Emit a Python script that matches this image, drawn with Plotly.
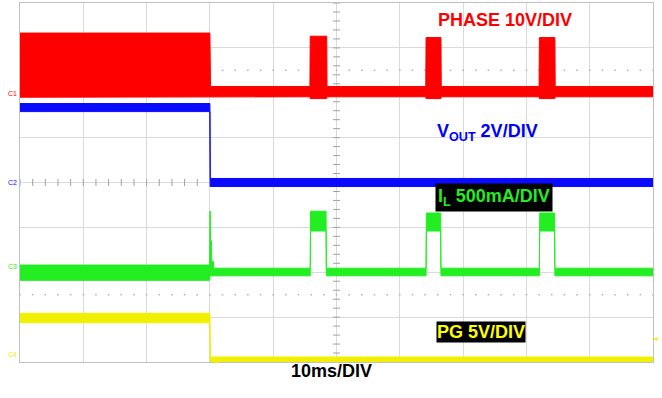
import numpy as np
import plotly.graph_objs as go

# time base: 10 ms/div, 10 divisions ; vertical: 8 divisions
# each channel: segments of an envelope (start ms, end ms, upper, lower) in channel units

# PHASE (V), 10 V/div
phase_start = [0.0, 30.1, 45.85, 48.5, 64.15, 66.55, 82.05, 84.55]
phase_end = [30.0, 45.8, 48.45, 64.1, 66.5, 82.0, 84.5, 100.0]
phase_hi = [12.3, 0.4, 11.6, 0.4, 11.3, 0.4, 11.3, 0.4]
phase_lo = [-2.0, -1.9, -2.3, -1.9, -2.3, -1.9, -2.3, -1.9]

# VOUT (V), 2 V/div
vout_start = [0.0, 30.05]
vout_end = [30.0, 100.0]
vout_hi = [3.52, 0.18]
vout_lo = [3.16, -0.18]

# IL (A), 500 mA/div
il_start = [0.0, 30.0, 30.1, 30.3, 30.6, 45.9, 48.4, 64.2, 66.5, 82.1, 84.5]
il_end = [29.95, 30.05, 30.25, 30.55, 45.85, 48.35, 64.15, 66.45, 82.05, 84.45, 100.0]
il_hi = [0.08, 0.68, 0.35, 0.12, 0.045, 0.68, 0.045, 0.66, 0.045, 0.66, 0.045]
il_lo = [-0.09, -0.04, -0.04, -0.04, -0.04, 0.46, -0.04, 0.46, -0.04, 0.46, -0.04]

# PG (V), 5 V/div
pg_start = [0.0, 30.05]
pg_end = [30.0, 100.0]
pg_hi = [5.2, 0.33]
pg_lo = [4.15, -0.3]

channels = [
    # name, label, start, end, hi, lo, offset (div), units/div, color
    ('PHASE', 'C1', phase_start, phase_end, phase_hi, phase_lo, 6.1, 10.0, '#ff0000'),
    ('VOUT', 'C2', vout_start, vout_end, vout_hi, vout_lo, 4.0, 2.0, '#0a0aff'),
    ('IL', 'C3', il_start, il_end, il_hi, il_lo, 2.0, 0.5, '#22ee22'),
    ('PG', 'C4', pg_start, pg_end, pg_hi, pg_lo, 0.045, 5.0, '#f0f000'),
]


def band(t0, t1, hi, lo, off, scale):
    xs, ys = [], []
    for a, b, h in zip(t0, t1, hi):
        xs += [a, b]
        ys += [off + h / scale, off + h / scale]
    for a, b, l in reversed(list(zip(t0, t1, lo))):
        xs += [b, a]
        ys += [off + l / scale, off + l / scale]
    return xs + xs[:1], ys + ys[:1]


data = []

# scope graticule decorations: center cross ticks and half-division dotted rows
tick_x = np.arange(0, 100.01, 2)
tick_y = np.arange(0, 8.01, 0.2)
data.append(go.Scatter(x=tick_x, y=[4] * len(tick_x), mode='markers', hoverinfo='skip',
                       marker=dict(symbol='line-ns-open', size=5, color='#a0a0a0', line=dict(width=1))))
data.append(go.Scatter(x=[50] * len(tick_y), y=tick_y, mode='markers', hoverinfo='skip',
                       marker=dict(symbol='line-ew-open', size=5, color='#a0a0a0', line=dict(width=1))))
for yy in [6.5, 1.5]:
    data.append(go.Scatter(x=tick_x, y=[yy] * len(tick_x), mode='markers', hoverinfo='skip',
                           marker=dict(symbol='square', size=1.5, color='#b0b0b0')))

for name, label, t0, t1, hi, lo, off, scale, color in channels[::-1]:
    xs, ys = band(t0, t1, hi, lo, off, scale)
    data.append(go.Scatter(x=xs, y=ys, mode='lines', fill='toself', fillcolor=color,
                           line=dict(color=color, width=1), name=name, hoverinfo='skip'))

annotations = [
    dict(x=76.6, y=7.62, text='<b>PHASE 10V/DIV</b>', showarrow=False,
         font=dict(color='#ff0000', size=18)),
    dict(x=65.6, y=5.12, xanchor='left', text='<b>V<sub>OUT</sub> 2V/DIV</b>', showarrow=False,
         font=dict(color='#0000ff', size=18)),
    dict(x=65.6, y=3.67, xanchor='left', text='<b>I<sub>L</sub> 500mA/DIV</b>', showarrow=False,
         font=dict(color='#22ee22', size=18), bgcolor='black', borderpad=2),
    dict(x=65.7, y=0.67, xanchor='left', text='<b>PG 5V/DIV</b>', showarrow=False,
         font=dict(color='#ffff00', size=18), bgcolor='black', borderpad=0),
    dict(x=0.492, y=-0.058, xref='paper', yref='paper', text='<b>10ms/DIV</b>', showarrow=False,
         font=dict(color='black', size=18)),
    # trigger position and trigger level markers
    dict(x=0.3, y=-0.014, xref='paper', yref='paper', text='▲', showarrow=False,
         font=dict(color='#f0f000', size=8)),
    dict(x=1.011, y=0.42 / 8, xref='paper', yref='paper', xanchor='right', text='◄', showarrow=False,
         font=dict(color='#f0f000', size=7), borderpad=0),
]
for name, label, t0, t1, hi, lo, off, scale, color in channels:
    annotations.append(dict(x=-0.001, y=off / 8, xref='paper', yref='paper', xanchor='right',
                            text=label, showarrow=False,
                            font=dict(color=color, size=7)))

layout = go.Layout(
    width=662, height=398,
    margin=dict(l=20, r=9, t=3, b=36),
    paper_bgcolor='white', plot_bgcolor='white',
    showlegend=False,
    font=dict(family='Liberation Sans, Arial'),
    xaxis=dict(range=[0, 100], dtick=10, showticklabels=False, showgrid=True, gridcolor='#dadada',
               gridwidth=1, zeroline=False, showline=True, linecolor='#c0c0c0', mirror=True, ticks=''),
    yaxis=dict(range=[0, 8], dtick=1, showticklabels=False, showgrid=True, gridcolor='#dadada',
               gridwidth=1, zeroline=False, showline=True, linecolor='#c0c0c0', mirror=True, ticks=''),
    annotations=annotations,
)
fig = go.Figure(data=data, layout=layout)
fig.write_html('out.html', config={'displayModeBar': False},
               post_script="document.body.style.margin='0';")
